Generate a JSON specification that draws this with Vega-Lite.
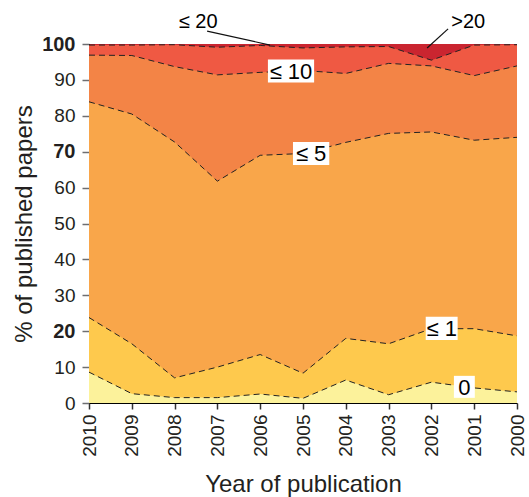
{
  "$schema": "https://vega.github.io/schema/vega-lite/v6.json",
  "width": 428,
  "height": 359,
  "autosize": "none",
  "padding": {"left": 89, "top": 44, "right": 12, "bottom": 94},
  "config": {
    "view": {"stroke": null, "fill": "#CA2530"},
    "font": "Liberation Sans"
  },
  "datasets": {
    "shares": [
      {"year": 2010, "b0": 8.6, "b1": 23.8, "b5": 83.9, "b10": 96.9, "b20": 99.7},
      {"year": 2009, "b0": 2.6, "b1": 16.5, "b5": 80.5, "b10": 96.8, "b20": 99.7},
      {"year": 2008, "b0": 1.5, "b1": 7.0, "b5": 72.7, "b10": 93.7, "b20": 99.8},
      {"year": 2007, "b0": 1.5, "b1": 10.0, "b5": 61.8, "b10": 91.4, "b20": 99.1},
      {"year": 2006, "b0": 2.5, "b1": 13.5, "b5": 69.0, "b10": 92.1, "b20": 99.6},
      {"year": 2005, "b0": 1.3, "b1": 8.3, "b5": 69.5, "b10": 92.6, "b20": 98.9},
      {"year": 2004, "b0": 6.4, "b1": 18.0, "b5": 72.6, "b10": 91.8, "b20": 99.2},
      {"year": 2003, "b0": 2.3, "b1": 16.5, "b5": 75.1, "b10": 94.6, "b20": 99.3},
      {"year": 2002, "b0": 5.8, "b1": 20.7, "b5": 75.5, "b10": 93.9, "b20": 95.5},
      {"year": 2001, "b0": 4.2, "b1": 20.7, "b5": 73.2, "b10": 91.2, "b20": 99.7},
      {"year": 2000, "b0": 3.1, "b1": 18.7, "b5": 74.0, "b10": 93.9, "b20": 99.8}
    ],
    "labels": [
      {"label": "≤ 10", "year": 2005.28, "value": 92.5},
      {"label": "≤ 5", "year": 2004.81, "value": 69.5},
      {"label": "≤ 1", "year": 2001.76, "value": 20.8},
      {"label": "0", "year": 2001.23, "value": 4.5}
    ],
    "outside": [
      {"label": "≤ 20", "year": 2007.45, "value": 106.1},
      {"label": ">20", "year": 2001.14, "value": 106.1}
    ],
    "leaders": [
      {"year": 2007.24, "value": 103.6, "year2": 2005.77, "value2": 99.7},
      {"year": 2001.61, "value": 104.2, "year2": 2002.1, "value2": 98.9}
    ]
  },
  "encoding": {
    "x": {
      "field": "year",
      "type": "quantitative",
      "scale": {"domain": [2000, 2010], "reverse": true, "nice": false, "zero": false},
      "axis": {
        "values": [2010, 2009, 2008, 2007, 2006, 2005, 2004, 2003, 2002, 2001, 2000],
        "format": "d",
        "labelAngle": -90,
        "labelFontSize": 19,
        "labelColor": "#231F20",
        "labelPadding": 5,
        "tickSize": 6,
        "tickColor": "#333333",
        "tickWidth": 1.5,
        "domainColor": "#000000",
        "grid": false,
        "title": "Year of publication",
        "titleFontSize": 24,
        "titleFontWeight": "normal",
        "titleColor": "#231F20",
        "titlePadding": 16
      }
    },
    "y": {
      "field": "value",
      "type": "quantitative",
      "scale": {"domain": [0, 100], "nice": false},
      "axis": {
        "values": [0, 10, 20, 30, 40, 50, 60, 70, 80, 90, 100],
        "labelFontSize": {"condition": {"test": "datum.value == 20 || datum.value == 70 || datum.value == 100", "value": 20}, "value": 19},
        "labelColor": "#231F20",
        "labelFontWeight": {"condition": {"test": "datum.value == 20 || datum.value == 70 || datum.value == 100", "value": "bold"}, "value": "normal"},
        "labelPadding": 7,
        "tickSize": 7,
        "tickColor": "#6D6E71",
        "tickWidth": 1.5,
        "domainColor": "#000000",
        "grid": false,
        "title": "% of published papers",
        "titleFontSize": 24,
        "titleFontWeight": "normal",
        "titleColor": "#231F20",
        "titlePadding": 5
      }
    }
  },
  "layer": [
    {
      "data": {"name": "shares"},
      "transform": [{"fold": ["b0", "b1", "b5", "b10", "b20"]}, {"filter": "datum.key == 'b20'"}],
      "mark": {"type": "area", "color": "#EF5943", "opacity": 1},
      "encoding": {}
    },
    {
      "data": {"name": "shares"},
      "transform": [{"fold": ["b0", "b1", "b5", "b10", "b20"]}, {"filter": "datum.key == 'b10'"}],
      "mark": {"type": "area", "color": "#F38446", "opacity": 1},
      "encoding": {}
    },
    {
      "data": {"name": "shares"},
      "transform": [{"fold": ["b0", "b1", "b5", "b10", "b20"]}, {"filter": "datum.key == 'b5'"}],
      "mark": {"type": "area", "color": "#F9A64A", "opacity": 1},
      "encoding": {}
    },
    {
      "data": {"name": "shares"},
      "transform": [{"fold": ["b0", "b1", "b5", "b10", "b20"]}, {"filter": "datum.key == 'b1'"}],
      "mark": {"type": "area", "color": "#FEC94D", "opacity": 1},
      "encoding": {}
    },
    {
      "data": {"name": "shares"},
      "transform": [{"fold": ["b0", "b1", "b5", "b10", "b20"]}, {"filter": "datum.key == 'b0'"}],
      "mark": {"type": "area", "color": "#FCF29B", "opacity": 1},
      "encoding": {}
    },
    {
      "data": {"name": "shares"},
      "transform": [{"fold": ["b0", "b1", "b5", "b10", "b20"]}],
      "mark": {"type": "line", "color": "#222222", "strokeWidth": 1, "strokeDash": [6, 4]},
      "encoding": {"detail": {"field": "key"}}
    },
    {
      "data": {"values": [{}]},
      "mark": {"type": "rule", "color": "#8A8A8A", "strokeWidth": 1.5},
      "encoding": {"x": {"datum": 2010}, "x2": {"datum": 2000}, "y": {"datum": 100}}
    },
    {
      "data": {"values": [{}]},
      "mark": {"type": "rule", "color": "#333333", "strokeWidth": 1, "strokeDash": [6, 4]},
      "encoding": {"x": {"datum": 2000}, "y": {"datum": 0}, "y2": {"datum": 100}}
    },
    {
      "data": {"name": "leaders"},
      "mark": {"type": "rule", "color": "#111111", "strokeWidth": 1.2},
      "encoding": {"x2": {"field": "year2"}, "y2": {"field": "value2"}}
    },
    {
      "data": {"name": "labels"},
      "mark": {"type": "point", "filled": true, "fill": "#FFFFFF", "opacity": 1, "strokeWidth": 0, "size": 484},
      "encoding": {
        "shape": {
          "field": "label",
          "scale": {
            "domain": ["≤ 10", "≤ 5", "≤ 1", "0"],
            "range": ["M-2.1,-1.05H2.1V1.05H-2.1Z", "M-1.65,-1.05H1.65V1.05H-1.65Z", "M-1.45,-1.05H1.45V1.05H-1.45Z", "M-0.95,-1H0.95V1H-0.95Z"]
          },
          "legend": null
        }
      }
    },
    {
      "data": {"name": "labels"},
      "mark": {"type": "text", "fontSize": 22, "color": "#000000", "align": "center", "baseline": "middle", "dy": 1},
      "encoding": {"text": {"field": "label"}}
    },
    {
      "data": {"name": "outside"},
      "mark": {"type": "text", "fontSize": 20, "color": "#000000", "align": "center", "baseline": "middle"},
      "encoding": {"text": {"field": "label"}}
    }
  ]
}
